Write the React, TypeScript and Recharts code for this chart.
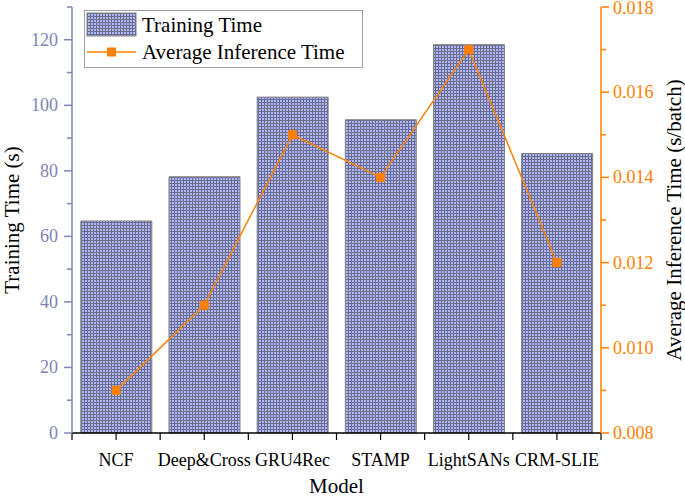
import { ComposedChart, Bar, Line, XAxis, YAxis, Legend } from 'recharts'

const models = ['NCF', 'Deep&Cross', 'GRU4Rec', 'STAMP', 'LightSANs', 'CRM-SLIE']
const trainingTime = [64.7, 78.2, 102.5, 95.6, 118.5, 85.3]
const inferenceTime = [0.009, 0.011, 0.015, 0.014, 0.017, 0.012]
const leftTicks = [0, 10, 20, 30, 40, 50, 60, 70, 80, 90, 100, 110, 120, 130]
const rightTicks = [0.008, 0.009, 0.01, 0.011, 0.012, 0.013, 0.014, 0.015, 0.016, 0.017, 0.018]

const data = models.map((m, i) => ({
  model: m,
  train: trainingTime[i],
  infer: inferenceTime[i],
}))

const SERIF = '"Liberation Serif", "DejaVu Serif", serif'
const LEFT_COLOR = '#7d84b6'
const ORANGE = '#ff8000'
const BAND = 529 / models.length

const GridPattern = ({ id }: { id: string }) => (
  <pattern id={id} width="3" height="3" patternUnits="userSpaceOnUse">
    <rect width="3" height="3" fill="#b0b6fa" />
    <path d="M0 0.5H3M0.5 0V3" stroke="#6a6e8e" strokeWidth="1" />
  </pattern>
)

const LeftTick = (props: any) => {
  const { x, y, payload } = props
  const major = payload.value % 20 === 0
  return (
    <g>
      <line x1={x} x2={x - (major ? 8 : 5)} y1={y} y2={y} stroke={LEFT_COLOR} strokeWidth={1.5} />
      {major && (
        <text x={x - 14} y={y + 6} textAnchor="end" fontFamily={SERIF} fontSize={18} fill={LEFT_COLOR}>
          {payload.value}
        </text>
      )}
    </g>
  )
}

const RightTick = (props: any) => {
  const { x, y, payload, index } = props
  const major = index % 2 === 0
  return (
    <g>
      <line x1={x} x2={x + (major ? 8 : 5)} y1={y} y2={y} stroke={ORANGE} strokeWidth={1.5} />
      {major && (
        <text x={x + 12} y={Math.max(y + 6, 14)} textAnchor="start" fontFamily={SERIF} fontSize={18} fill={ORANGE}>
          {payload.value.toFixed(3)}
        </text>
      )}
    </g>
  )
}

const BottomTick = (props: any) => {
  const { x, y, payload, index } = props
  const left = x - BAND / 2
  return (
    <g>
      <line x1={x} x2={x} y1={y} y2={y + 7} stroke="#000" strokeWidth={1.2} />
      <line x1={left} x2={left} y1={y} y2={y + 7} stroke="#000" strokeWidth={1.2} />
      {index === models.length - 1 && (
        <line x1={x + BAND / 2} x2={x + BAND / 2} y1={y} y2={y + 7} stroke="#000" strokeWidth={1.2} />
      )}
      <text x={x} y={y + 33} textAnchor="middle" fontFamily={SERIF} fontSize={18} fill="#000">
        {payload.value}
      </text>
    </g>
  )
}

const SquareDot = (props: any) => {
  const { cx, cy, index } = props
  return <rect key={index} x={cx - 4.5} y={cy - 4.5} width={9} height={9} fill={ORANGE} />
}

const LegendBox = () => (
  <svg width={279} height={58} style={{ display: 'block' }}>
    <defs>
      <GridPattern id="legendGrid" />
    </defs>
    <rect x={0.5} y={0.5} width={278} height={57} fill="#fff" stroke="#a0a0a0" />
    <rect x={3} y={3} width={49} height={23} fill="url(#legendGrid)" stroke="#808080" />
    <text x={58} y={22} fontFamily={SERIF} fontSize={21} fill="#000">Training Time</text>
    <line x1={3} x2={52} y1={42} y2={42} stroke={ORANGE} strokeWidth={1.5} />
    <rect x={23} y={37.5} width={9} height={9} fill={ORANGE} />
    <text x={58} y={49} fontFamily={SERIF} fontSize={21} fill="#000">Average Inference Time</text>
  </svg>
)

export default function App() {
  return (
    <div style={{ position: 'absolute', left: 0, top: 0, width: 685, height: 497, background: '#fff' }}>
      <ComposedChart
        width={685}
        height={497}
        data={data}
        margin={{ top: 7, right: 0, left: 0, bottom: 0 }}
        barCategoryGap="10%"
      >
        <defs>
          <GridPattern id="barGrid" />
        </defs>
        <XAxis
          dataKey="model"
          height={64}
          tickSize={0}
          tickMargin={0}
          interval={0}
          tick={<BottomTick />}
          axisLine={{ stroke: '#000', strokeWidth: 1.5 }}
          tickLine={false}
          label={{
            content: (p: any) => (
              <text
                x={p.viewBox.x + p.viewBox.width / 2}
                y={p.viewBox.y + 60}
                textAnchor="middle"
                fontFamily={SERIF}
                fontSize={21}
                fill="#000"
              >
                Model
              </text>
            ),
          }}
        />
        <YAxis
          yAxisId="left"
          orientation="left"
          width={72}
          domain={[0, 130]}
          ticks={leftTicks}
          interval={0}
          tickSize={0}
          tickMargin={0}
          tick={<LeftTick />}
          tickLine={false}
          axisLine={{ stroke: LEFT_COLOR, strokeWidth: 1.5 }}
          label={{
            content: (p: any) => {
              const cy = p.viewBox.y + p.viewBox.height / 2
              return (
                <text
                  x={19}
                  y={cy}
                  transform={`rotate(-90 19 ${cy})`}
                  textAnchor="middle"
                  fontFamily={SERIF}
                  fontSize={21}
                  fill="#000"
                >
                  Training Time (s)
                </text>
              )
            },
          }}
        />
        <YAxis
          yAxisId="right"
          orientation="right"
          width={84}
          domain={[0.008, 0.018]}
          ticks={rightTicks}
          interval={0}
          tickSize={0}
          tickMargin={0}
          tick={<RightTick />}
          tickLine={false}
          axisLine={{ stroke: ORANGE, strokeWidth: 1.5 }}
          label={{
            content: (p: any) => {
              const cy = p.viewBox.y + p.viewBox.height / 2
              return (
                <text
                  x={681}
                  y={cy}
                  transform={`rotate(-90 681 ${cy})`}
                  textAnchor="middle"
                  fontFamily={SERIF}
                  fontSize={21}
                  fill="#000"
                >
                  Average Inference Time (s/batch)
                </text>
              )
            },
          }}
        />
        <Legend
          layout="vertical"
          align="center"
          verticalAlign="middle"
          content={() => <LegendBox />}
          wrapperStyle={{ position: 'absolute', left: 84, top: 10, width: 279, height: 58 }}
        />
        <Bar
          yAxisId="left"
          dataKey="train"
          name="Training Time"
          fill="url(#barGrid)"
          stroke="#808080"
          strokeWidth={1}
          isAnimationActive={false}
        />
        <Line
          yAxisId="right"
          dataKey="infer"
          name="Average Inference Time"
          type="linear"
          stroke={ORANGE}
          strokeWidth={1.5}
          dot={<SquareDot />}
          activeDot={false}
          isAnimationActive={false}
        />
      </ComposedChart>
    </div>
  )
}
